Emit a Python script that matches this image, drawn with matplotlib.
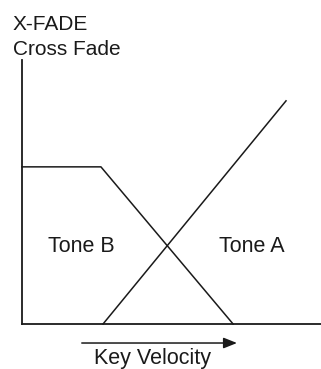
import matplotlib
matplotlib.use("Agg")
import matplotlib.pyplot as plt

# Data (velocity in % of drawn range, level in % of Tone B full level)
tone_b_x = [0, 26.4, 70.6]
tone_b_y = [100, 100, 0]
tone_a_x = [27.1, 88.3]
tone_a_y = [0, 142]
tone_labels = ["Tone B", "Tone A"]
title_lines = ["X-FADE", "Cross Fade"]
xlabel = "Key Velocity"

W, H = 321, 369
fig = plt.figure(figsize=(W / 100, H / 100), dpi=100)
plt.rcParams['font.family'] = ['Liberation Sans', 'DejaVu Sans']
ink = '#1a1a1a'

ax = fig.add_axes([22 / W, (H - 324) / H, (W - 22) / W, (324 - 60) / H])
ax.set_xlim(0, 100)
ax.set_ylim(0, 168)
for s in ['top', 'right']:
    ax.spines[s].set_visible(False)
for s in ['left', 'bottom']:
    ax.spines[s].set_linewidth(1.3)
    ax.spines[s].set_color(ink)
ax.set_xticks([])
ax.set_yticks([])
ax.patch.set_alpha(0)

ax.plot(tone_b_x, tone_b_y, color=ink, lw=1.1, clip_on=False)
ax.plot(tone_a_x, tone_a_y, color=ink, lw=1.1, clip_on=False)

fs_title = 15.0
fs = 15.5
fig.text(13 / W, 1 - 30 / H, title_lines[0], fontsize=fs_title, color=ink, ha='left', va='baseline')
fig.text(13 / W, 1 - 55 / H, title_lines[1], fontsize=fs_title, color=ink, ha='left', va='baseline')

fig.text(81.5 / W, 1 - 252 / H, tone_labels[0], fontsize=fs, color=ink, ha='center', va='baseline')
fig.text(252 / W, 1 - 252 / H, tone_labels[1], fontsize=fs, color=ink, ha='center', va='baseline')
fig.text(152 / W, 1 - 364 / H, xlabel, fontsize=fs, color=ink, ha='center', va='baseline')

ax.annotate('', xy=(71.9, -12.1), xytext=(20.0, -12.1), xycoords='data',
            annotation_clip=False,
            arrowprops=dict(arrowstyle='-|>,head_length=0.45,head_width=0.18',
                            mutation_scale=18, lw=1.1, color=ink,
                            shrinkA=0, shrinkB=0))

fig.savefig('out.png', dpi=100)
